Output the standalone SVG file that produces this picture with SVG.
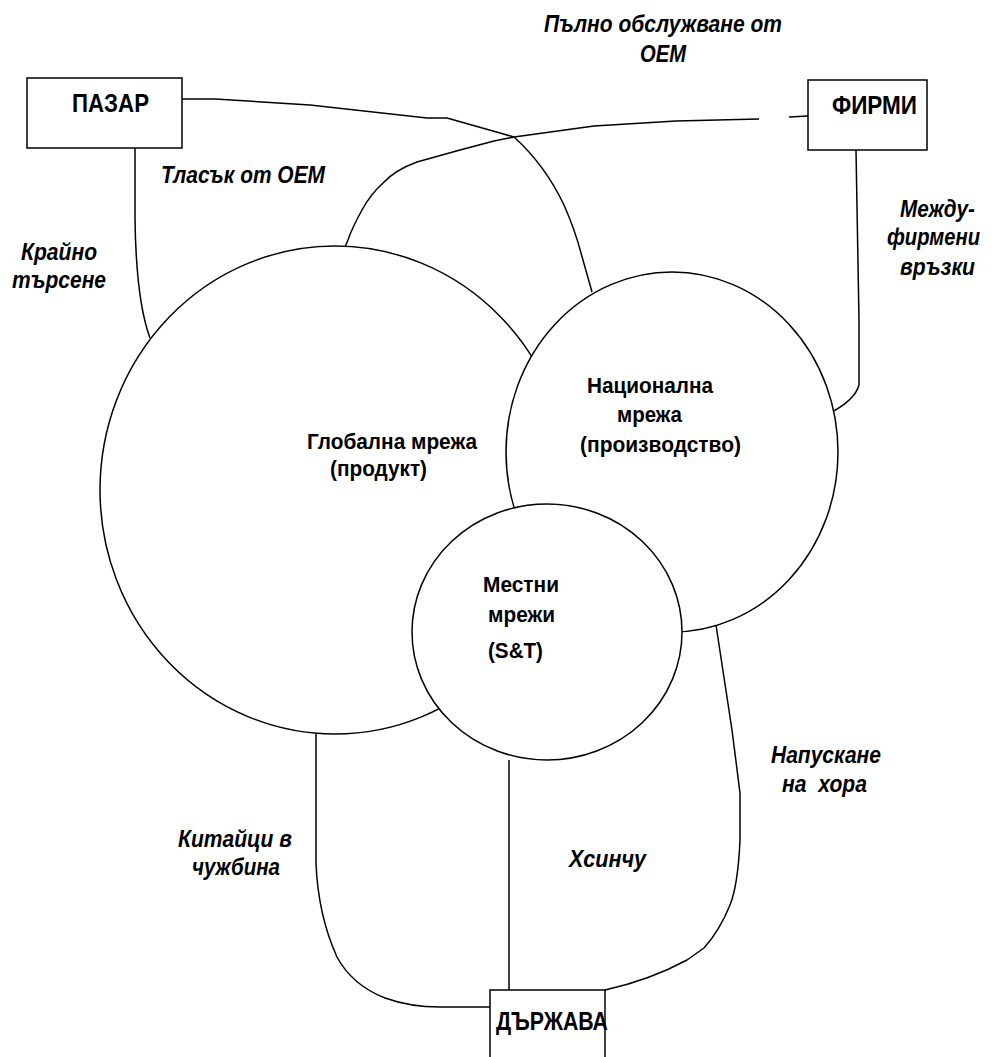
<svg xmlns="http://www.w3.org/2000/svg" width="994" height="1057" viewBox="0 0 994 1057">
<style>
.ln{fill:none;stroke:#000;stroke-width:1.5;stroke-linejoin:round}
.nd{fill:#fff;stroke:#000;stroke-width:1.5}
.bx{font-family:"Liberation Sans",Arial,sans-serif;font-weight:bold;font-size:25px;fill:#000}
.nl{font-family:"Liberation Sans",Arial,sans-serif;font-weight:bold;font-size:22.5px;fill:#000}
.el{font-family:"Liberation Sans",Arial,sans-serif;font-weight:bold;font-style:italic;font-size:23.5px;fill:#000}
</style>
<rect width="994" height="1057" fill="#fff"/>
<g id="connectors">
<path class="ln" d="M135,148 L135,218 Q136,300 150,338"/>
<path class="ln" d="M182,99 L215,99 L310,105 L427,118 L447,118 L500,133 L514,137 Q545,165 564,205 Q575,230 581,253 L592,292"/>
<path class="ln" d="M808,116 L789,117"/>
<path class="ln" d="M759,119 L676,121 L594,126 L514,137 L494,141 L460,150 L417,162 Q395,170 383,183 Q370,195 362,210 Q352,228 348,240 L345,247"/>
<path class="ln" d="M856,150 L859,320 L859,385 Q855,400 830,413"/>
<path class="ln" d="M316,734 L316,863 Q318,915 337,957 Q352,985 385,998 Q410,1007 440,1007 L490,1007"/>
<path class="ln" d="M509,760 L509,990"/>
<path class="ln" d="M716,625 L732,730 L740,793 L740,840 Q738,885 730,905 Q720,930 704,948 L687,960 Q650,980 605,990"/>
</g>
<g id="global">
<ellipse class="nd" cx="335" cy="490" rx="235" ry="244"/>
<text class="nl" x="307" y="449" textLength="170" lengthAdjust="spacingAndGlyphs">Глобална мрежа</text>
<text class="nl" x="330" y="476" textLength="97" lengthAdjust="spacingAndGlyphs">(продукт)</text>
</g>
<g id="national">
<ellipse class="nd" cx="672" cy="452" rx="166" ry="180"/>
<text class="nl" x="587" y="393" textLength="126" lengthAdjust="spacingAndGlyphs">Национална</text>
<text class="nl" x="617" y="422" textLength="65" lengthAdjust="spacingAndGlyphs">мрежа</text>
<text class="nl" x="580" y="452" textLength="161" lengthAdjust="spacingAndGlyphs">(производство)</text>
</g>
<g id="local">
<ellipse class="nd" cx="547" cy="632" rx="135" ry="128"/>
<text class="nl" x="483" y="592" textLength="76" lengthAdjust="spacingAndGlyphs">Местни</text>
<text class="nl" x="488" y="622" textLength="67" lengthAdjust="spacingAndGlyphs">мрежи</text>
<text class="nl" x="488" y="658" textLength="55" lengthAdjust="spacingAndGlyphs">(S&amp;T)</text>
</g>
<g id="pazar">
<rect class="nd" x="27" y="78" width="155" height="70"/>
<text class="bx" x="72" y="112" textLength="77" lengthAdjust="spacingAndGlyphs">ПАЗАР</text>
</g>
<g id="firmi">
<rect class="nd" x="808" y="80" width="119" height="70"/>
<text class="bx" x="832" y="114" textLength="85" lengthAdjust="spacingAndGlyphs">ФИРМИ</text>
</g>
<g id="darzhava">
<rect class="nd" x="490" y="990" width="115" height="80"/>
<text class="bx" x="496" y="1030" textLength="112" lengthAdjust="spacingAndGlyphs">ДЪРЖАВА</text>
</g>
<g id="labels">
<text class="el" x="544" y="32" textLength="238" lengthAdjust="spacingAndGlyphs">Пълно обслужване от</text>
<text class="el" x="640" y="62" textLength="46" lengthAdjust="spacingAndGlyphs">ОЕМ</text>
<text class="el" x="161" y="183" textLength="164" lengthAdjust="spacingAndGlyphs">Тласък от ОЕМ</text>
<text class="el" x="21" y="260" textLength="76" lengthAdjust="spacingAndGlyphs">Крайно</text>
<text class="el" x="12" y="288" textLength="94" lengthAdjust="spacingAndGlyphs">търсене</text>
<text class="el" x="900" y="217" textLength="75" lengthAdjust="spacingAndGlyphs">Между-</text>
<text class="el" x="887" y="245" textLength="93" lengthAdjust="spacingAndGlyphs">фирмени</text>
<text class="el" x="900" y="275" textLength="75" lengthAdjust="spacingAndGlyphs">връзки</text>
<text class="el" x="178" y="847" textLength="114" lengthAdjust="spacingAndGlyphs">Китайци в</text>
<text class="el" x="192" y="875" textLength="88" lengthAdjust="spacingAndGlyphs">чужбина</text>
<text class="el" x="569" y="867" textLength="77" lengthAdjust="spacingAndGlyphs">Хсинчу</text>
<text class="el" x="771" y="763" textLength="110" lengthAdjust="spacingAndGlyphs">Напускане</text>
<text class="el" x="782" y="792" textLength="85" lengthAdjust="spacingAndGlyphs" xml:space="preserve">на  хора</text>
</g>
</svg>
